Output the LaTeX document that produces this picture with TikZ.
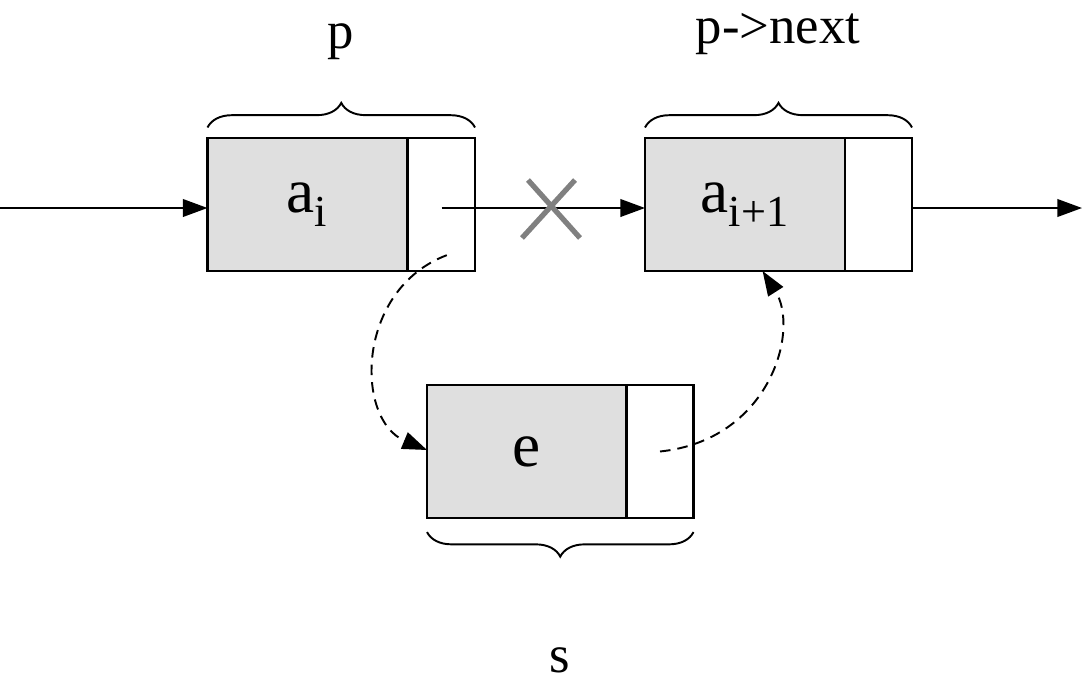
\documentclass[tikz,border=0pt]{standalone}
\usepackage{fontspec}
\setmainfont{Liberation Serif}
\usetikzlibrary{decorations.pathreplacing,arrows.meta}
\tikzstyle{datafield}=[draw, line width=1.2pt, fill=gray!25, minimum width=4cm, minimum height=2.66cm, inner sep=0, outer sep=0, font=\fontsize{36}{40}\selectfont]
\tikzstyle{linkfield}=[draw, line width=1.2pt, fill=white, minimum width=1.34cm, minimum height=2.66cm, inner sep=0, outer sep=0]
\tikzstyle{ptrname}=[font=\fontsize{30}{34}\selectfont, inner sep=0]
\tikzstyle{link}=[line width=1.1pt, -{Triangle[length=14pt,width=10pt]}]
\tikzstyle{newlink}=[link, dash pattern=on 6pt off 4pt]
\tikzstyle{bracket}=[line width=1.1pt, decorate, decoration={brace, amplitude=14pt}]
\begin{document}
\begin{tikzpicture}[x=0.02cm, y=-0.02cm]
        \useasboundingbox (0, 0) rectangle (1088, 690);
        % nodes of the list
        \node[datafield] (A) at (307.5, 204.5) {a\textsubscript{i}};
        \node[linkfield] (An) at (441.5, 204.5) {};
        \node[datafield] (B) at (745, 204.5) {a\textsubscript{i+1}};
        \node[linkfield] (Bn) at (878.5, 204.5) {};
        \node[datafield] (E) at (527, 451.5) {e};
        \node[linkfield] (En) at (660, 451.5) {};
        \coordinate (in) at (0, 208);
        \coordinate (out) at (1082, 208);
        % pointer names
        \node[ptrname] (p) at (341, 42) {p};
        \node[ptrname] (pnext) at (778, 34) {p->next};
        \node[ptrname] (s) at (560, 660) {s};
        \draw[bracket] ([yshift=6]A.north west) -- ([yshift=6]An.north east);
        \draw[bracket] ([yshift=6]B.north west) -- ([yshift=6]Bn.north east);
        \draw[bracket] ([yshift=-8]En.south east) -- ([yshift=-8]E.south west);
        % links
        \draw[link] (in) -- (A.west |- in);
        \draw[link] (An.center |- in) -- (B.west |- in);
        \draw[link] (Bn.east |- in) -- (out);
        \draw[gray, line width=3pt] (528, 180) -- (580, 238) (575, 180) -- (522, 238);
        \draw[newlink] ([xshift=3, yshift=9]An.south) .. controls (355, 290) and (355, 420) .. (E.west |- 0, 450);
        \draw[newlink] (En.center) .. controls (770, 440) and (800, 330) .. ([xshift=10]B.south);
\end{tikzpicture}
\end{document}
